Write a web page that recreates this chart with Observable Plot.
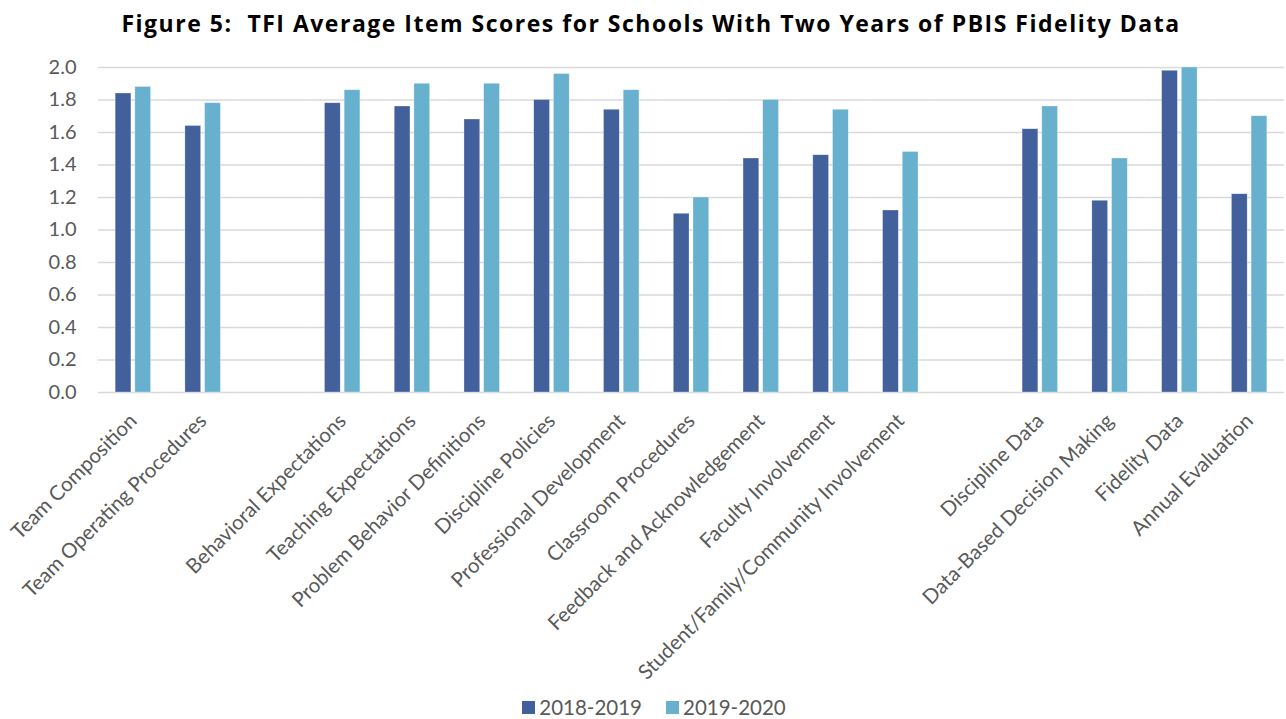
<!DOCTYPE html>
<html>
<head>
<meta charset="utf-8">
<script src="https://cdn.jsdelivr.net/npm/d3@7"></script>
<script src="https://cdn.jsdelivr.net/npm/@observablehq/plot@0.6"></script>
<style>
  html, body { margin: 0; padding: 0; background: #fff; overflow: hidden; width: 1286px; height: 719px; }
  #title { height: 48px; line-height: 46px; text-align: center; font-family: "Open Sans", sans-serif; font-weight: bold; font-size: 23px; letter-spacing: 1.5px; color: #000; padding-left: 16px; box-sizing: border-box; white-space: nowrap; }
  #legend { height: 38px; display: flex; justify-content: center; align-items: center; font-family: Lato, sans-serif; font-size: 20.5px; color: #595959; padding-left: 22px; box-sizing: border-box; }
  .item { display: flex; align-items: center; margin: 0 12px; }
  .sw { width: 13px; height: 13px; margin-right: 4px; }
  svg { display: block; }
</style>
</head>
<body>
<div id="title">Figure 5:&nbsp; TFI Average Item Scores for Schools With Two Years of PBIS Fidelity Data</div>
<div id="chart"></div>
<div id="legend"></div>
<script>
const years = ["2018-2019", "2019-2020"];
const colors = ["#41609c", "#67b1cf"];
const items = [
  "Team Composition", "Team Operating Procedures",
  "Behavioral Expectations", "Teaching Expectations", "Problem Behavior Definitions",
  "Discipline Policies", "Professional Development", "Classroom Procedures",
  "Feedback and Acknowledgement", "Faculty Involvement", "Student/Family/Community Involvement",
  "Discipline Data", "Data-Based Decision Making", "Fidelity Data", "Annual Evaluation"
];
// category slots on the axis, with two empty gap slots
const slots = [
  "Team Composition", "Team Operating Procedures", " ",
  "Behavioral Expectations", "Teaching Expectations", "Problem Behavior Definitions",
  "Discipline Policies", "Professional Development", "Classroom Procedures",
  "Feedback and Acknowledgement", "Faculty Involvement", "Student/Family/Community Involvement", "  ",
  "Discipline Data", "Data-Based Decision Making", "Fidelity Data", "Annual Evaluation"
];
const scores2018 = [1.84, 1.64, 1.78, 1.76, 1.68, 1.80, 1.74, 1.10, 1.44, 1.46, 1.12, 1.62, 1.18, 1.98, 1.22];
const scores2019 = [1.88, 1.78, 1.86, 1.90, 1.90, 1.96, 1.86, 1.20, 1.80, 1.74, 1.48, 1.76, 1.44, 2.00, 1.70];
const yTicks = [0, 0.2, 0.4, 0.6, 0.8, 1.0, 1.2, 1.4, 1.6, 1.8, 2.0];

const data = [];
items.forEach((it, i) => {
  data.push({item: it, year: years[0], score: scores2018[i]});
  data.push({item: it, year: years[1], score: scores2019[i]});
});
// horizontal grid lines, drawn in every category slot
const gridRows = slots.flatMap(s => yTicks.map(t => ({slot: s, tick: t})));

const chart = Plot.plot({
  width: 1286,
  height: 640,
  marginTop: 19,
  marginBottom: 296,
  marginLeft: 98,
  marginRight: 2,
  style: {fontFamily: "Lato, sans-serif", color: "#595959", background: "white", overflow: "visible"},
  fx: {domain: slots, padding: 0, round: false, label: null},
  x: {domain: years, paddingInner: 0.2, paddingOuter: 0.87, round: false, axis: null},
  y: {domain: [0, 2], label: null},
  color: {domain: years, range: colors},
  marks: [
    Plot.ruleY(gridRows, {fx: "slot", y: "tick", stroke: "#d9d9d9", strokeWidth: 1.6}),
    Plot.barY(data, {fx: "item", x: "year", y: "score", fill: "year", stroke: "#ffffff", strokeOpacity: 0.5, strokeWidth: 0.6}),
    Plot.axisY(yTicks, {tickSize: 0, tickPadding: 22, fontSize: 20, tickFormat: d3.format(".1f"), label: null}),
    Plot.axisFx({anchor: "bottom", tickRotate: -45, tickSize: 0, tickPadding: 25, fontSize: 20.5, tickFormat: d => d.trim(), label: null})
  ]
});
document.getElementById("chart").appendChild(chart);

const legend = document.getElementById("legend");
years.forEach((y, i) => {
  const el = document.createElement("div");
  el.className = "item";
  el.innerHTML = `<div class="sw" style="background:${colors[i]}"></div><span>${y}</span>`;
  legend.appendChild(el);
});
</script>
</body>
</html>
